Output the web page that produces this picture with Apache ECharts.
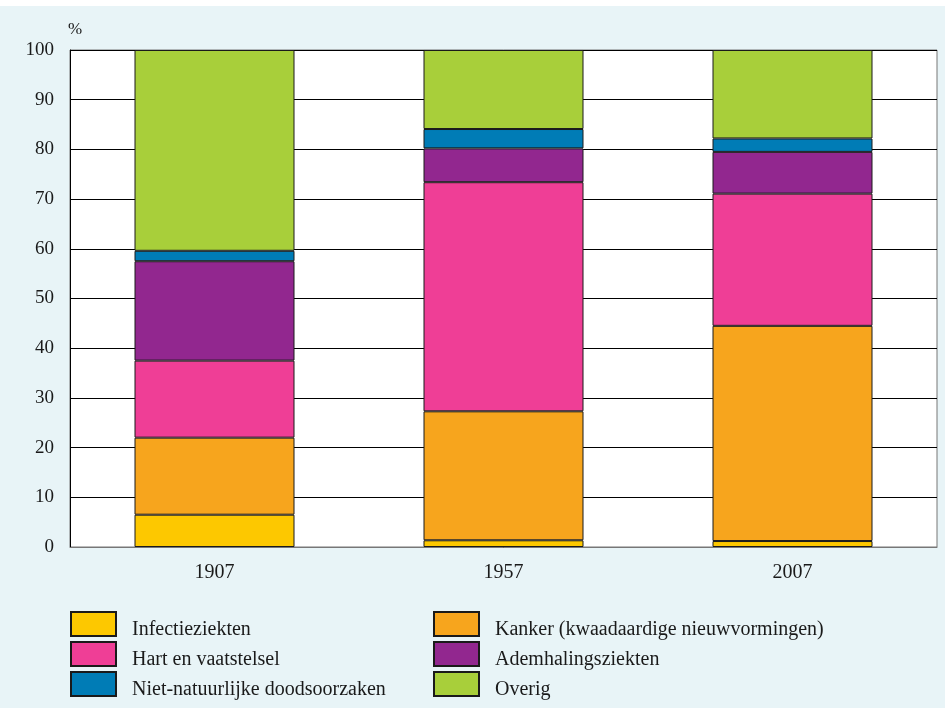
<!DOCTYPE html>
<html>
<head>
<meta charset="utf-8">
<script src="https://cdn.jsdelivr.net/npm/echarts@6/dist/echarts.min.js"></script>
<style>
	html,body{margin:0;padding:0;background:#fff;}
	#chart{width:945px;height:708px;}
</style>
</head>
<body>
<div id="chart"></div>
<script>
// categories (jaren)
var years = ['1907', '1957', '2007'];
// aandeel per doodsoorzaak, in %
var infectie = [6.5, 1.35, 1.2];
var kanker = [15.5, 25.95, 43.3];
var hart = [15.5, 46.1, 26.6];
var adem = [20.0, 6.8, 8.4];
var nietNat = [2.1, 3.9, 2.7];
var overig = [40.4, 15.9, 17.8];
var yTicks = [0, 10, 20, 30, 40, 50, 60, 70, 80, 90, 100];

var serif = 'Liberation Serif';

function bar(name, data, color){
	return {
		name: name,
		type: 'bar',
		stack: 'totaal',
		barWidth: 160,
		data: data,
		itemStyle: {color: color, borderColor: '#1a1a1a', borderWidth: 1}
	};
}

//legenda in twee kolommen van drie, blokje iets hoger dan de tekst
var legendIcon = 'path://M0,0L45,0L45,24L0,24Z M0,36L0,36';
function legendCol(left, names){
	return {
		orient: 'vertical',
		left: left,
		top: 611,
		height: 120,
		padding: 0,
		icon: legendIcon,
		itemWidth: 45,
		itemHeight: 36,
		itemGap: -8,
		data: names,
		textStyle: {fontFamily: serif, fontSize: 20, color: '#1a1a1a', padding: [0, 0, 0, 11]}
	};
}

var charts = echarts.init(document.getElementById('chart'));
var option = {
	backgroundColor: '#e8f4f7',
	animation: false,
	graphic: [{
		type: 'rect',
		left: 0, top: 0,
		shape: {width: 945, height: 6},
		style: {fill: '#fff'}
	}],
	grid: {
		left: 70,
		right: 8,
		top: 50,
		bottom: 161,
		show: true,
		backgroundColor: '#fff',
		borderColor: '#777',
		borderWidth: 1
	},
	legend: [
		legendCol(70, ['Infectieziekten', 'Hart en vaatstelsel', 'Niet-natuurlijke doodsoorzaken']),
		legendCol(433, ['Kanker (kwaadaardige nieuwvormingen)', 'Ademhalingsziekten', 'Overig'])
	],
	xAxis: {
		type: 'category',
		data: years,
		axisTick: {show: false},
		axisLine: {lineStyle: {color: '#777', width: 1}},
		axisLabel: {fontFamily: serif, fontSize: 20, color: '#1a1a1a', margin: 16}
	},
	yAxis: {
		type: 'value',
		min: yTicks[0],
		max: yTicks[yTicks.length - 1],
		interval: 10,
		name: '%',
		nameLocation: 'end',
		nameGap: 12,
		nameTextStyle: {fontFamily: serif, fontSize: 17, color: '#1a1a1a', align: 'left', padding: [0, 0, 0, -2]},
		axisLine: {show: true, lineStyle: {color: '#000'}},
		axisTick: {show: false},
		axisLabel: {fontFamily: serif, fontSize: 19, color: '#1a1a1a', margin: 16},
		splitLine: {lineStyle: {color: '#000', width: 1}}
	},
	series: [
		bar('Infectieziekten', infectie, '#fdc800'),
		bar('Kanker (kwaadaardige nieuwvormingen)', kanker, '#f7a51d'),
		bar('Hart en vaatstelsel', hart, '#ef3e96'),
		bar('Ademhalingsziekten', adem, '#92278f'),
		bar('Niet-natuurlijke doodsoorzaken', nietNat, '#007cb6'),
		bar('Overig', overig, '#a8cf3a')
	]
};
charts.setOption(option);
</script>
</body>
</html>
